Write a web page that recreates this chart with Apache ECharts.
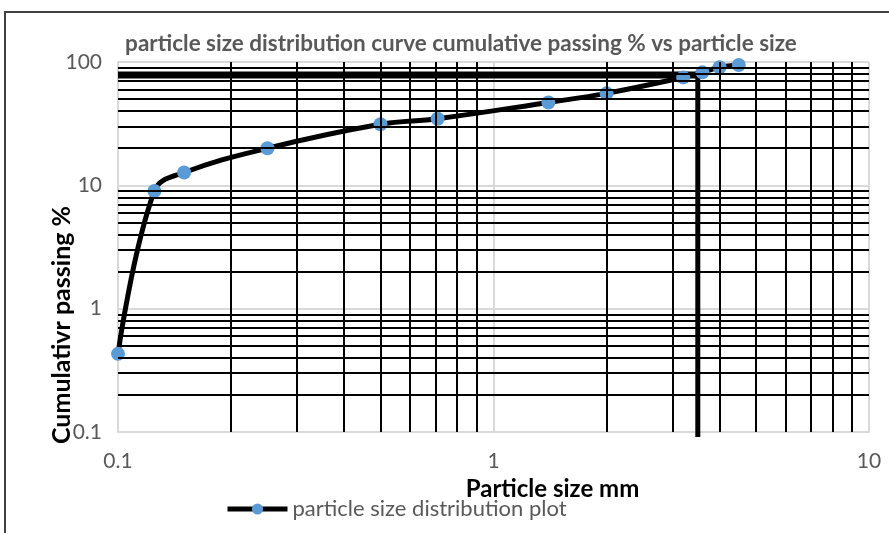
<!DOCTYPE html>
<html>
<head>
<meta charset="utf-8">
<script src="https://cdn.jsdelivr.net/npm/echarts@6/dist/echarts.min.js"></script>
<style>
  html, body { margin: 0; padding: 0; background: #fff; }
  #chart { width: 889px; height: 533px; }
</style>
</head>
<body>
<div id="chart"></div>
<script>
// Sieve sizes (mm) and cumulative passing (%)
var sizes   = [0.1, 0.125, 0.15, 0.25, 0.5, 0.71, 1.4, 2, 3.2, 3.6, 4, 4.5];
var passing = [0.43, 9.0, 12.7, 20, 31.3, 34.7, 47, 55.7, 75, 82.4, 90.6, 94.6];

// Reading guide: horizontal at the selected passing level, then down to the size axis
var guideH = [[0.1, 78.5], [3.5, 78.5]];
var guideV = [[3.5, 78.5], [3.5, 0.091]];

// Log-cycle minor grid positions
var xMinor = [0.2, 0.3, 0.4, 0.5, 0.6, 0.7, 0.8, 0.9, 2, 3, 4, 5, 6, 7, 8, 9];
var yMinor = [0.2, 0.3, 0.4, 0.5, 0.6, 0.7, 0.8, 0.9,
              2, 3, 4, 5, 6, 7, 8, 9,
              20, 30, 40, 50, 60, 70, 80, 90];

var seriesName = 'particle size distribution plot';
var FONT = 'Lato, "Open Sans", sans-serif';

var chart = echarts.init(document.getElementById('chart'));

var minorLines = xMinor.map(function (v) { return { xAxis: v }; })
  .concat(yMinor.map(function (v) { return { yAxis: v }; }));

chart.setOption({
  animation: false,
  title: {
    text: 'particle size distribution curve cumulative passing % vs particle size',
    left: 456,
    textAlign: 'center',
    top: 27,
    textStyle: { fontFamily: FONT, fontSize: 22.5, fontWeight: 'bold', color: '#595959' }
  },
  legend: {
    data: [seriesName],
    left: 220,
    top: 493,
    itemWidth: 60,
    itemHeight: 14,
    lineStyle: { width: 5 },
    textStyle: { fontFamily: FONT, fontSize: 22, color: '#595959' }
  },
  grid: { left: 118, right: 20, top: 62, bottom: 101 },
  xAxis: {
    type: 'log',
    logBase: 10,
    min: 0.1,
    max: 10,
    name: 'Particle size mm',
    nameLocation: 'middle',
    nameGap: 37,
    nameTextStyle: {
      fontFamily: FONT, fontSize: 24, fontWeight: 'bold', color: '#000',
      padding: [0, 0, 0, 118]
    },
    axisLine: { lineStyle: { color: '#d9d9d9', width: 2 } },
    axisTick: { show: false },
    axisLabel: { fontFamily: FONT, fontSize: 21, color: '#595959', margin: 19 },
    splitLine: { show: true, lineStyle: { color: '#d9d9d9', width: 2 } }
  },
  yAxis: {
    type: 'log',
    logBase: 10,
    min: 0.1,
    max: 100,
    axisLine: { show: true, lineStyle: { color: '#d9d9d9', width: 2 } },
    axisTick: { show: false },
    axisLabel: { fontFamily: FONT, fontSize: 21, color: '#595959', margin: 16 },
    splitLine: { show: true, lineStyle: { color: '#d9d9d9', width: 2 } }
  },
  graphic: [
    {
      type: 'rect',
      shape: { x: 5, y: 12, width: 900, height: 540 },
      style: { fill: 'none', stroke: '#404040', lineWidth: 2 },
      silent: true
    },
    {
      type: 'text',
      x: 62,
      y: 325,
      rotation: Math.PI / 2,
      style: {
        text: 'Cumulativr passing %',
        align: 'center',
        verticalAlign: 'middle',
        font: 'bold 25px ' + FONT,
        fill: '#000'
      }
    }
  ],
  series: [
    {
      // minor grid drawn as black lines at the log-cycle subdivisions
      name: 'minor-grid',
      type: 'line',
      data: [],
      silent: true,
      z: 1,
      markLine: {
        silent: true,
        symbol: 'none',
        label: { show: false },
        animation: false,
        lineStyle: { color: '#000', width: 2, type: 'solid' },
        data: minorLines
      }
    },
    {
      name: 'guide-h',
      type: 'line',
      data: guideH,
      symbol: 'none',
      z: 3,
      clip: false,
      lineStyle: { color: '#000', width: 7 }
    },
    {
      name: 'guide-v',
      type: 'line',
      data: guideV,
      symbol: 'none',
      z: 3,
      clip: false,
      lineStyle: { color: '#000', width: 5 }
    },
    {
      name: seriesName,
      type: 'line',
      data: sizes.map(function (s, i) { return [s, passing[i]]; }),
      smooth: 0.4,
      symbol: 'circle',
      symbolSize: 14,
      z: 4,
      lineStyle: { color: '#000', width: 5 },
      itemStyle: { color: '#5b9bd5' }
    }
  ]
});
</script>
</body>
</html>
